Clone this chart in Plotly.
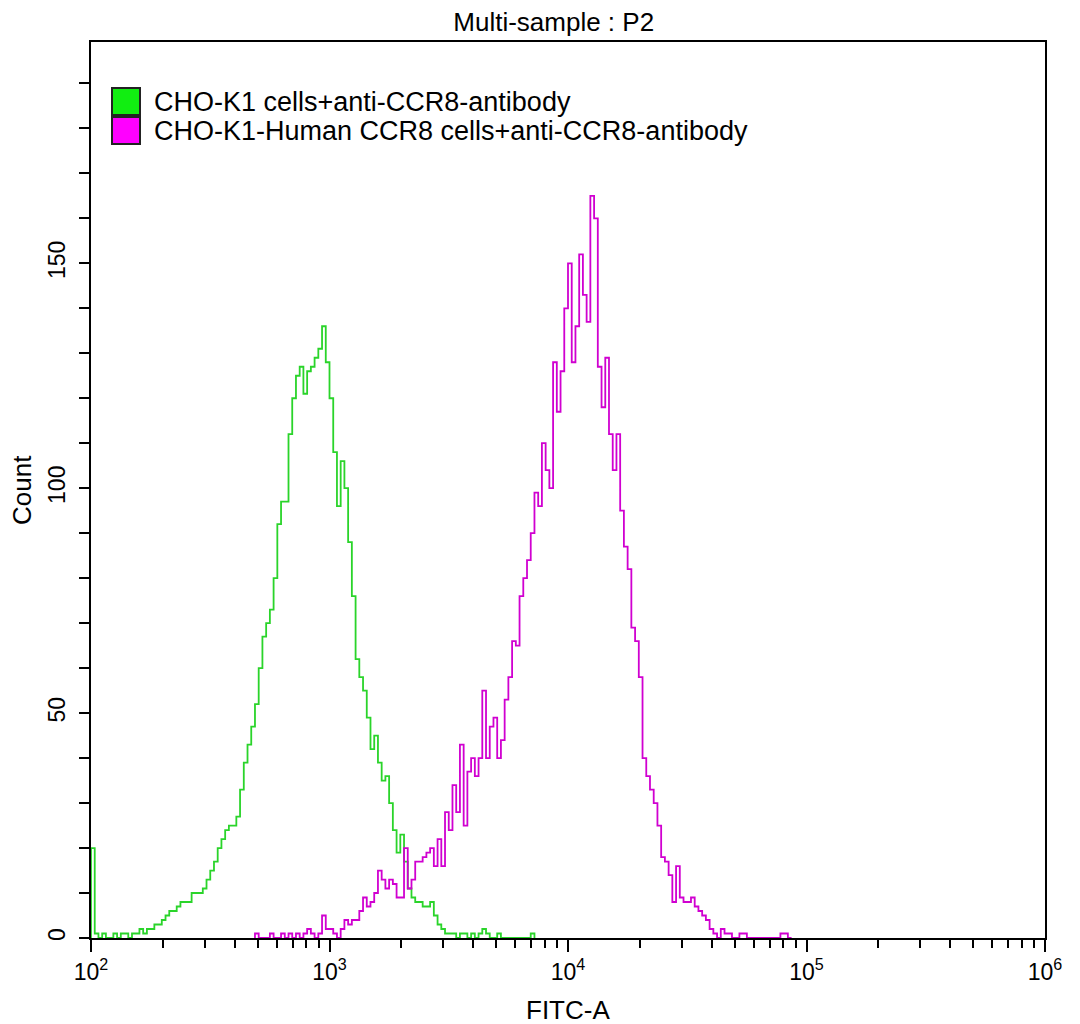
import numpy as np
import plotly.graph_objects as go

# histogram channels: 64 bins per decade, starting at 10^2
BINS_PER_DECADE = 64
FIRST_DECADE = 2

green_name = "CHO-K1 cells+anti-CCR8-antibody"
green_start = 0
green_counts = [20,
                1, 0, 1, 0, 0, 1, 0, 1, 1, 0,
                1, 1, 2, 1, 2, 2, 3, 3, 4, 5,
                6, 6, 7, 8, 8, 8, 10, 10, 10, 11,
                13, 15, 17, 20, 22, 24, 25, 25, 27, 33,
                39, 43, 47, 52, 60, 67, 70, 73, 80, 92,
                97, 97, 112, 120, 125, 127, 121, 126, 127, 129,
                131, 136, 128, 120, 108, 96, 106, 100, 88, 76,
                62, 58, 55, 49, 42, 45, 39, 35, 36, 30,
                24, 19, 23, 17, 11, 9, 8, 8, 7, 7,
                8, 5, 3, 2, 1, 1, 1, 0, 1, 1,
                0, 1, 0, 1, 2, 1, 0, 0, 1, 0,
                0, 0, 0, 0, 0, 0, 0, 1]

magenta_name = "CHO-K1-Human CCR8 cells+anti-CCR8-antibody"
magenta_start = 44
magenta_counts = [1, 0, 0, 0, 1, 0, 0,
                  1, 0, 1, 0, 1, 0, 1, 2, 1, 0,
                  1, 5, 2, 2, 1, 0, 2, 4, 3, 4,
                  4, 6, 9, 7, 8, 10, 15, 13, 11, 13,
                  12, 9, 9, 20, 11, 13, 17, 17, 18, 19,
                  20, 16, 22, 16, 28, 24, 34, 28, 43, 25,
                  37, 40, 36, 40, 55, 40, 47, 49, 40, 44,
                  53, 58, 66, 65, 76, 80, 84, 90, 99, 96,
                  110, 104, 100, 128, 117, 126, 140, 150, 128, 136,
                  152, 143, 137, 165, 160, 127, 118, 129, 112, 104,
                  112, 95, 87, 82, 69, 66, 58, 40, 36, 33,
                  30, 25, 18, 17, 14, 8, 16, 9, 8, 8,
                  9, 7, 6, 5, 4, 2, 1, 0, 2, 1,
                  1, 0, 0, 1, 1, 0, 0, 0, 0, 0,
                  0, 0, 0, 0, 1, 1, 0]

y_ticks = [0, 50, 100, 150]
x_decades = [2, 3, 4, 5, 6]

FONT = "Liberation Sans, Arial, sans-serif"
GREEN = "#2ad42a"
MAGENTA = "#d000d0"

# page has an 8px body margin, so the figure is a bit smaller than the window
W, H = 1072, 1016
PLOT_W, PLOT_H = 954, 896


def hist_xy(start, counts):
    edges = 10.0 ** (FIRST_DECADE + (start + np.arange(len(counts) + 1)) / BINS_PER_DECADE)
    x = [edges[0]] + list(edges[:-1]) + [edges[-1]]
    y = [0] + list(counts) + [0]
    return x, y


fig = go.Figure()
for name, start, counts, col in [(green_name, green_start, green_counts, GREEN),
                                 (magenta_name, magenta_start, magenta_counts, MAGENTA)]:
    hx, hy = hist_xy(start, counts)
    fig.add_trace(go.Scatter(x=hx, y=hy, mode="lines", name=name,
                             line=dict(color=col, width=1.8, shape="hv"),
                             showlegend=False))

minor_x = [m * 10 ** d for d in x_decades[:-1] for m in range(2, 10)]

fig.update_layout(
    width=W, height=H,
    margin=dict(l=83, r=W - 83 - PLOT_W, t=34, b=H - 34 - PLOT_H),
    paper_bgcolor="white", plot_bgcolor="white",
    font=dict(family=FONT, size=22, color="black"),
    title=dict(text="Multi-sample : P2", x=0.485, xref="paper", xanchor="center",
               y=1 - 14 / H, yanchor="middle", font=dict(size=26)),
    xaxis=dict(type="log", range=[2, 6], showgrid=False, zeroline=False,
               showline=True, linecolor="black", linewidth=2, mirror=True,
               ticks="outside", ticklen=12, tickwidth=2, tickcolor="black",
               tickvals=[10 ** d for d in x_decades],
               ticktext=["10<sup>%d</sup>" % d for d in x_decades],
               minor=dict(tickvals=minor_x, ticks="outside", ticklen=8,
                          tickwidth=2, tickcolor="black", showgrid=False),
               tickfont=dict(size=23)),
    yaxis=dict(range=[0, 199.2], showgrid=False, zeroline=False,
               showline=True, linecolor="black", linewidth=2, mirror=True,
               ticks="outside", ticklen=10, tickwidth=2, tickcolor="black",
               tickvals=y_ticks, tickangle=-90, ticklabelstandoff=5,
               minor=dict(dtick=10, ticks="outside", ticklen=10,
                          tickwidth=2, tickcolor="black", showgrid=False),
               tickfont=dict(size=23)),
)

# axis titles
fig.add_annotation(text="FITC-A", xref="paper", yref="paper", x=0.5, y=-72 / PLOT_H,
                   xanchor="center", yanchor="middle", showarrow=False,
                   font=dict(size=26))
fig.add_annotation(text="Count", xref="paper", yref="paper", x=-69 / PLOT_W, y=0.5,
                   xanchor="center", yanchor="middle", textangle=-90, showarrow=False,
                   font=dict(size=26))

# legend boxes
for (name, col), top in zip([(green_name, "#11ee11"), (magenta_name, "#ff00ff")], [88, 117]):
    fig.add_shape(type="rect", xref="paper", yref="paper",
                  x0=21 / PLOT_W, x1=49 / PLOT_W,
                  y0=(938 - top - 27) / PLOT_H, y1=(938 - top) / PLOT_H,
                  fillcolor=col, line=dict(color="#222222", width=2))
    fig.add_annotation(text=name, xref="paper", yref="paper",
                       x=61 / PLOT_W, y=(938 - top - 14) / PLOT_H,
                       xanchor="left", yanchor="middle", showarrow=False,
                       font=dict(size=27))

fig.write_html("out.html")
